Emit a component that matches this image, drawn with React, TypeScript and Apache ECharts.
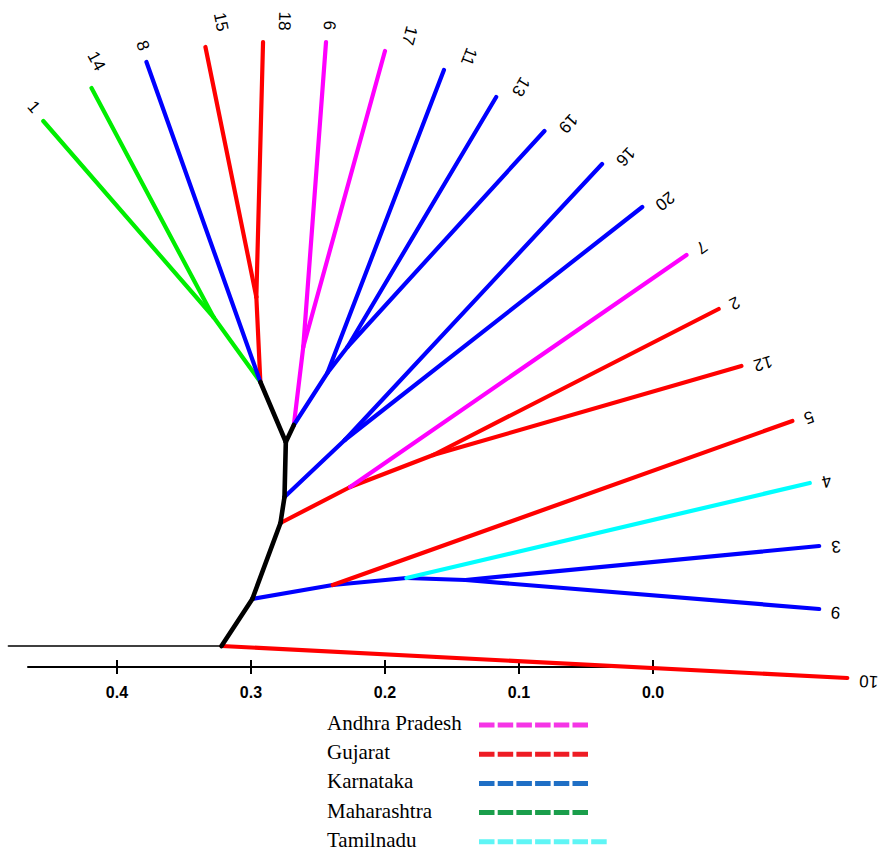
import { useEffect, useRef } from 'react';
import * as echarts from 'echarts';

// ---- data ----
const states = ['Andhra Pradesh', 'Gujarat', 'Karnataka', 'Maharashtra', 'Tamilnadu'];
const treeColors = ['#ff00ff', '#ff0000', '#0000ff', '#00ee00', '#00ffff', '#000000'];
const legendColors = ['#f535e6', '#ee1c24', '#1f6fc5', '#1a9e4b', '#5ff5f5'];
const legendDashCounts = [6, 6, 6, 6, 7];

const axisTickValues = [0, 0.1, 0.2, 0.3, 0.4];

// internal nodes: distance (x, genetic distance) and layout height (y)
const internalIds = ['stub', 'R', 'A', 'B', 'C', 'D', 'E', 'F', 'N1', 'N2', 'N3', 'P1', 'P2', 'Q', 'G', 'H', 'J', 'K', 'L'];
const internalDist = [0.481, 0.322, 0.299, 0.278, 0.275, 0.274, 0.293, 0.268, 0.328, 0.296, 0.261, 0.243, 0.228, 0.23, 0.226, 0.164, 0.239, 0.184, 0.14];
const internalHeight = [21, 21, 68, 144, 170, 225, 285, 242, 350, 370, 320, 294, 320, 227, 180, 212, 82, 89, 87];

// internal edges: child <- parent, colour group (-1 = trunk, -2 = root stub)
const innerChild = ['R', 'A', 'B', 'C', 'D', 'E', 'F', 'N1', 'N2', 'N3', 'P1', 'P2', 'Q', 'G', 'H', 'J', 'K', 'L'];
const innerParent = ['stub', 'R', 'A', 'B', 'C', 'D', 'D', 'E', 'E', 'F', 'F', 'P1', 'C', 'B', 'G', 'A', 'J', 'K'];
const innerGroup = [-2, -1, -1, -1, -1, -1, -1, 3, 1, 0, 2, 2, 2, 1, 1, 2, 2, 2];

// leaves
const leafLabels = ['1', '14', '8', '15', '18', '6', '17', '11', '13', '19', '16', '20', '7', '2', '12', '5', '4', '3', '9', '10'];
const leafDist = [0.455, 0.419, 0.378, 0.334, 0.291, 0.244, 0.2, 0.156, 0.117, 0.081, 0.038, 0.008, -0.025, -0.049, -0.066, -0.104, -0.117, -0.124, -0.124, -0.145];
const leafHeight = [546, 579, 605, 620, 625, 625, 616, 597, 570, 536, 503, 460, 412, 358, 301, 246, 184, 121, 58, -11];
const leafParent = ['N1', 'N1', 'E', 'N2', 'N2', 'N3', 'N3', 'P1', 'P2', 'P2', 'Q', 'Q', 'G', 'H', 'H', 'J', 'K', 'L', 'L', 'R'];
const leafState = ['Maharashtra', 'Maharashtra', 'Karnataka', 'Gujarat', 'Gujarat', 'Andhra Pradesh', 'Andhra Pradesh', 'Karnataka', 'Karnataka', 'Karnataka', 'Karnataka', 'Karnataka', 'Andhra Pradesh', 'Gujarat', 'Gujarat', 'Gujarat', 'Tamilnadu', 'Karnataka', 'Karnataka', 'Gujarat'];

export default function App() {
  const ref = useRef<HTMLDivElement>(null);
  useEffect(() => {
    const chart = echarts.init(ref.current!, null, { renderer: 'svg' });

    const pos = (id: string) => {
      const i = internalIds.indexOf(id);
      return [internalDist[i], internalHeight[i]];
    };

    // edges: [x1, y1, x2, y2, colourIdx, widthKind]
    const colored: number[][] = [];
    const trunk: number[][] = [];
    innerChild.forEach((c, i) => {
      const p = pos(innerParent[i]);
      const q = pos(c);
      const g = innerGroup[i];
      if (g >= 0) colored.push([p[0], p[1], q[0], q[1], g, 0]);
      else trunk.push([p[0], p[1], q[0], q[1], 5, g === -2 ? 2 : 1]);
    });
    leafLabels.forEach((_, i) => {
      const p = pos(leafParent[i]);
      colored.push([p[0], p[1], leafDist[i], leafHeight[i], states.indexOf(leafState[i]), 0]);
    });
    const edges = colored.concat(trunk);
    const widths = [4.2, 4.6, 1.6];

    const labelData = leafLabels.map((_, i) => {
      const p = pos(leafParent[i]);
      return [leafDist[i], leafHeight[i], p[0], p[1], i];
    });

    const legendGraphics: any[] = [];
    states.forEach((s, i) => {
      const y = 725 + i * 29.2;
      legendGraphics.push({
        type: 'text',
        x: 327,
        y: y - 2,
        style: {
          text: s,
          fill: '#000',
          font: '21px "Liberation Serif", "Times New Roman", serif',
          verticalAlign: 'middle',
        },
      });
      const n = legendDashCounts[i];
      legendGraphics.push({
        type: 'line',
        shape: { x1: 479, y1: y, x2: 479 + n * 18.7 - 3.2, y2: y },
        style: { stroke: legendColors[i], lineWidth: 5, lineDash: [15.5, 3.2] },
      });
    });

    const option: any = {
      animation: false,
      backgroundColor: '#ffffff',
      grid: { left: 28, right: 228, top: 0, bottom: 184, containLabel: false },
      xAxis: [
        {
          type: 'value',
          min: 0,
          max: 0.4664,
          inverse: true,
          position: 'bottom',
          axisLine: { show: true, lineStyle: { color: '#000', width: 2 } },
          axisTick: { show: true, customValues: axisTickValues, length: 7, lineStyle: { color: '#000', width: 2 } },
          axisLabel: {
            customValues: axisTickValues,
            formatter: (v: number) => v.toFixed(1),
            color: '#000',
            fontWeight: 'bold',
            fontSize: 16,
            fontFamily: '"Liberation Sans", Arial, sans-serif',
            margin: 17,
          },
          splitLine: { show: false },
        },
        {
          type: 'value',
          min: 0,
          max: 0.4664,
          inverse: true,
          position: 'bottom',
          axisLine: { show: false },
          axisTick: { show: true, inside: true, customValues: axisTickValues, length: 7, lineStyle: { color: '#000', width: 2 } },
          axisLabel: { show: false },
          splitLine: { show: false },
        },
      ],
      yAxis: { type: 'value', min: 0, max: 667, show: false },
      graphic: legendGraphics,
      series: [
        {
          type: 'custom',
          xAxisIndex: 0,
          clip: false,
          silent: true,
          data: edges,
          encode: { x: [0, 2], y: [1, 3] },
          renderItem: (_p: any, api: any) => {
            const a = api.coord([api.value(0), api.value(1)]);
            const b = api.coord([api.value(2), api.value(3)]);
            return {
              type: 'line',
              shape: { x1: a[0], y1: a[1], x2: b[0], y2: b[1] },
              style: {
                stroke: treeColors[api.value(4)],
                lineWidth: widths[api.value(5)],
                lineCap: 'round',
              },
            };
          },
        },
        {
          type: 'custom',
          xAxisIndex: 0,
          clip: false,
          silent: true,
          data: labelData,
          encode: { x: [0, 2], y: [1, 3] },
          renderItem: (_p: any, api: any) => {
            const tip = api.coord([api.value(0), api.value(1)]);
            const par = api.coord([api.value(2), api.value(3)]);
            const text = leafLabels[api.value(4)];
            let dx = tip[0] - par[0];
            let dy = tip[1] - par[1];
            const len = Math.hypot(dx, dy) || 1;
            dx /= len;
            dy /= len;
            const ang = Math.atan2(-dy, dx);
            const w = text.length * 9.5;
            const along = 12 + w / 2;
            const s = Math.sin(ang);
            const vOff = text.length > 1 ? 2 + 19 * s * s : 2;
            return {
              type: 'text',
              x: tip[0] + along * dx + vOff * Math.sin(ang),
              y: tip[1] + along * dy + vOff * Math.cos(ang),
              rotation: ang + Math.PI,
              style: {
                text,
                fill: '#000',
                font: '17px "Liberation Sans", Arial, sans-serif',
                align: 'center',
                verticalAlign: 'middle',
              },
            };
          },
        },
      ],
    };
    chart.setOption(option);
    return () => chart.dispose();
  }, []);
  return (
    <div
      ref={ref}
      style={{ position: 'absolute', left: 0, top: 0, width: 881, height: 851 }}
    />
  );
}
